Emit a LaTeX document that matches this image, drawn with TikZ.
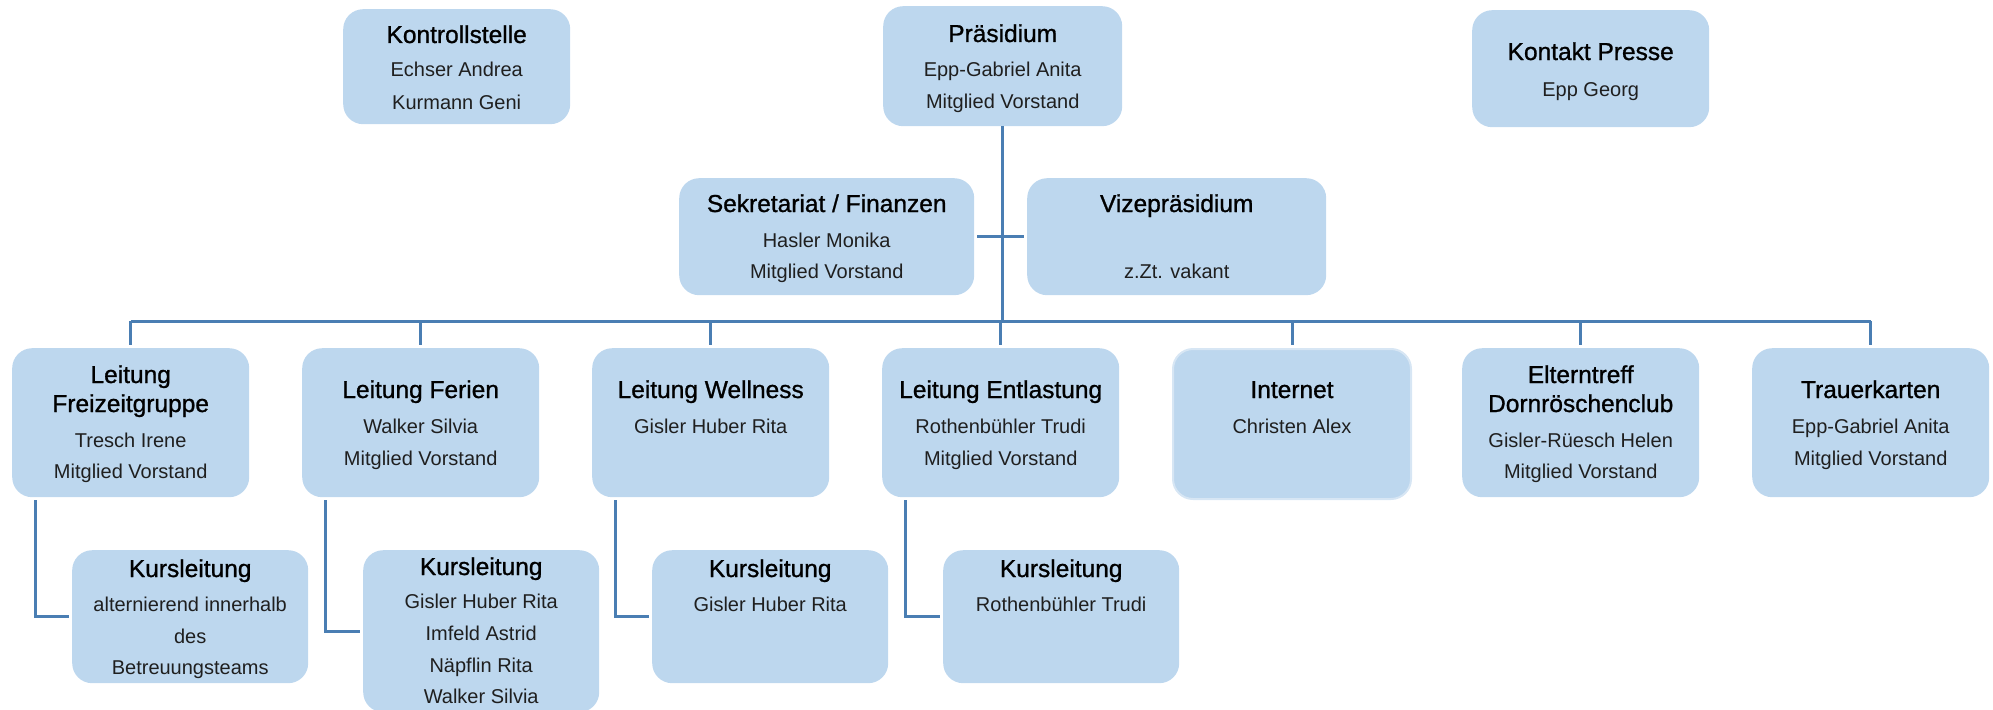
\documentclass[tikz,border=0pt]{standalone}
\usepackage{fontspec}
\setmainfont{Liberation Sans}
\newfontfamily\tfont[FakeBold=1.0]{Liberation Sans}
\definecolor{boxblue}{HTML}{BDD7EE}
\definecolor{linkblue}{HTML}{4A7EB3}
\definecolor{glow}{HTML}{D7E6F4}
\tikzset{
  box/.style={draw=none, fill=boxblue, rounded corners=20pt, inner sep=0pt, anchor=north west},
  ttl/.style={anchor=base, inner sep=0pt, font=\tfont\fontsize{24.5}{29}\selectfont},
  bdy/.style={anchor=base, inner sep=0pt, text=black!88, font=\fontsize{20}{24}\selectfont},
  link/.style={draw=linkblue, line width=3pt}
}
\newcommand\obox[5]{\node[box, minimum width=#4pt, minimum height=#5pt] (#1) at (#2,#3) {};}
\begin{document}
\begin{tikzpicture}[x=1pt,y=-1pt]
\useasboundingbox (0,0) rectangle (1993,709);
% ---- boxes
\obox{kontroll}{343}{9}{227}{115}
\obox{praes}{883}{6}{239}{120}
\obox{presse}{1472}{10}{237}{117}
\obox{sekr}{679}{178}{295}{117}
\obox{vize}{1027}{178}{299}{117}
\obox{l1}{12}{348}{237}{149}
\obox{l2}{302}{348}{237}{149}
\obox{l3}{592}{348}{237}{149}
\obox{l4}{882}{348}{237}{149}
\node[box, draw=glow, line width=2pt, minimum width=238pt, minimum height=150pt] (l5) at (1172,348) {};
\obox{l6}{1462}{348}{237}{149}
\obox{l7}{1752}{348}{237}{149}
\obox{k1}{72}{550}{236}{133}
\obox{k2}{363}{550}{236}{162}
\obox{k3}{652}{550}{236}{133}
\obox{k4}{943}{550}{236}{133}
% ---- connectors
\coordinate (busy) at (0,321);
\draw[link] (praes.south) -- (praes.south |- busy);
\draw[link] (l1.north |- busy) -- (l7.north |- busy);
\foreach \n in {l1,l2,l3,l4,l5,l6,l7}{
  \draw[link, shorten >=3pt] (\n.north |- busy) -- (\n.north);
}
\draw[link, shorten <=3pt, shorten >=3pt] (sekr.east) -- (vize.west);
\draw[link, line cap=butt] ([xshift=23pt,yshift=-3pt]l1.south west) |- ([xshift=-3pt]k1.west);
\draw[link, line cap=butt] ([xshift=23pt,yshift=-3pt]l2.south west) |- ([xshift=-3pt]k2.west);
\draw[link, line cap=butt] ([xshift=23pt,yshift=-3pt]l3.south west) |- ([xshift=-3pt]k3.west);
\draw[link, line cap=butt] ([xshift=23pt,yshift=-3pt]l4.south west) |- ([xshift=-3pt]k4.west);
% ---- texts top
\node[ttl] (kontroll-t) at (kontroll.north |- 0,43) {Kontrollstelle};
\node[bdy] (kontroll-a) at (kontroll.north |- 0,77) {Echser Andrea};
\node[bdy] (kontroll-b) at (kontroll.north |- 0,109) {Kurmann Geni};
\node[ttl] (praes-t) at (praes.north |- 0,42) {Präsidium};
\node[bdy] (praes-a) at (praes.north |- 0,76) {Epp-Gabriel Anita};
\node[bdy] (praes-b) at (praes.north |- 0,108) {Mitglied Vorstand};
\node[ttl] (presse-t) at (presse.north |- 0,60) {Kontakt Presse};
\node[bdy] (presse-a) at (presse.north |- 0,96) {Epp Georg};
\node[ttl] (sekr-t) at (sekr.north |- 0,212) {Sekretariat / Finanzen};
\node[bdy] (sekr-a) at (sekr.north |- 0,247) {Hasler Monika};
\node[bdy] (sekr-b) at (sekr.north |- 0,278) {Mitglied Vorstand};
\node[ttl] (vize-t) at (vize.north |- 0,212) {Vizepräsidium};
\node[bdy] (vize-a) at (vize.north |- 0,278) {z.Zt. vakant};
% ---- texts row 3
\node[ttl] (l1-t) at (l1.north |- 0,383) {Leitung};
\node[ttl] (l1-u) at (l1.north |- 0,412) {Freizeitgruppe};
\node[bdy] (l1-a) at (l1.north |- 0,447) {Tresch Irene};
\node[bdy] (l1-b) at (l1.north |- 0,478) {Mitglied Vorstand};
\node[ttl] (l2-t) at (l2.north |- 0,398) {Leitung Ferien};
\node[bdy] (l2-a) at (l2.north |- 0,433) {Walker Silvia};
\node[bdy] (l2-b) at (l2.north |- 0,465) {Mitglied Vorstand};
\node[ttl] (l3-t) at (l3.north |- 0,398) {Leitung Wellness};
\node[bdy] (l3-a) at (l3.north |- 0,433) {Gisler Huber Rita};
\node[ttl] (l4-t) at (l4.north |- 0,398) {Leitung Entlastung};
\node[bdy] (l4-a) at (l4.north |- 0,433) {Rothenbühler Trudi};
\node[bdy] (l4-b) at (l4.north |- 0,465) {Mitglied Vorstand};
\node[ttl] (l5-t) at (l5.north |- 0,398) {Internet};
\node[bdy] (l5-a) at (l5.north |- 0,433) {Christen Alex};
\node[ttl] (l6-t) at (l6.north |- 0,383) {Elterntreff};
\node[ttl] (l6-u) at (l6.north |- 0,412) {Dornröschenclub};
\node[bdy] (l6-a) at (l6.north |- 0,447) {Gisler-Rüesch Helen};
\node[bdy] (l6-b) at (l6.north |- 0,478) {Mitglied Vorstand};
\node[ttl] (l7-t) at (l7.north |- 0,398) {Trauerkarten};
\node[bdy] (l7-a) at (l7.north |- 0,433) {Epp-Gabriel Anita};
\node[bdy] (l7-b) at (l7.north |- 0,465) {Mitglied Vorstand};
% ---- texts row 4
\node[ttl] (k1-t) at (k1.north |- 0,577) {Kursleitung};
\node[bdy] (k1-a) at (k1.north |- 0,611) {alternierend innerhalb};
\node[bdy] (k1-b) at (k1.north |- 0,643) {des};
\node[bdy] (k1-c) at (k1.north |- 0,674) {Betreuungsteams};
\node[ttl] (k2-t) at (k2.north |- 0,575) {Kursleitung};
\node[bdy] (k2-a) at (k2.north |- 0,608) {Gisler Huber Rita};
\node[bdy] (k2-b) at (k2.north |- 0,640) {Imfeld Astrid};
\node[bdy] (k2-c) at (k2.north |- 0,672) {Näpflin Rita};
\node[bdy] (k2-d) at (k2.north |- 0,703) {Walker Silvia};
\node[ttl] (k3-t) at (k3.north |- 0,577) {Kursleitung};
\node[bdy] (k3-a) at (k3.north |- 0,611) {Gisler Huber Rita};
\node[ttl] (k4-t) at (k4.north |- 0,577) {Kursleitung};
\node[bdy] (k4-a) at (k4.north |- 0,611) {Rothenbühler Trudi};
\end{tikzpicture}
\end{document}
